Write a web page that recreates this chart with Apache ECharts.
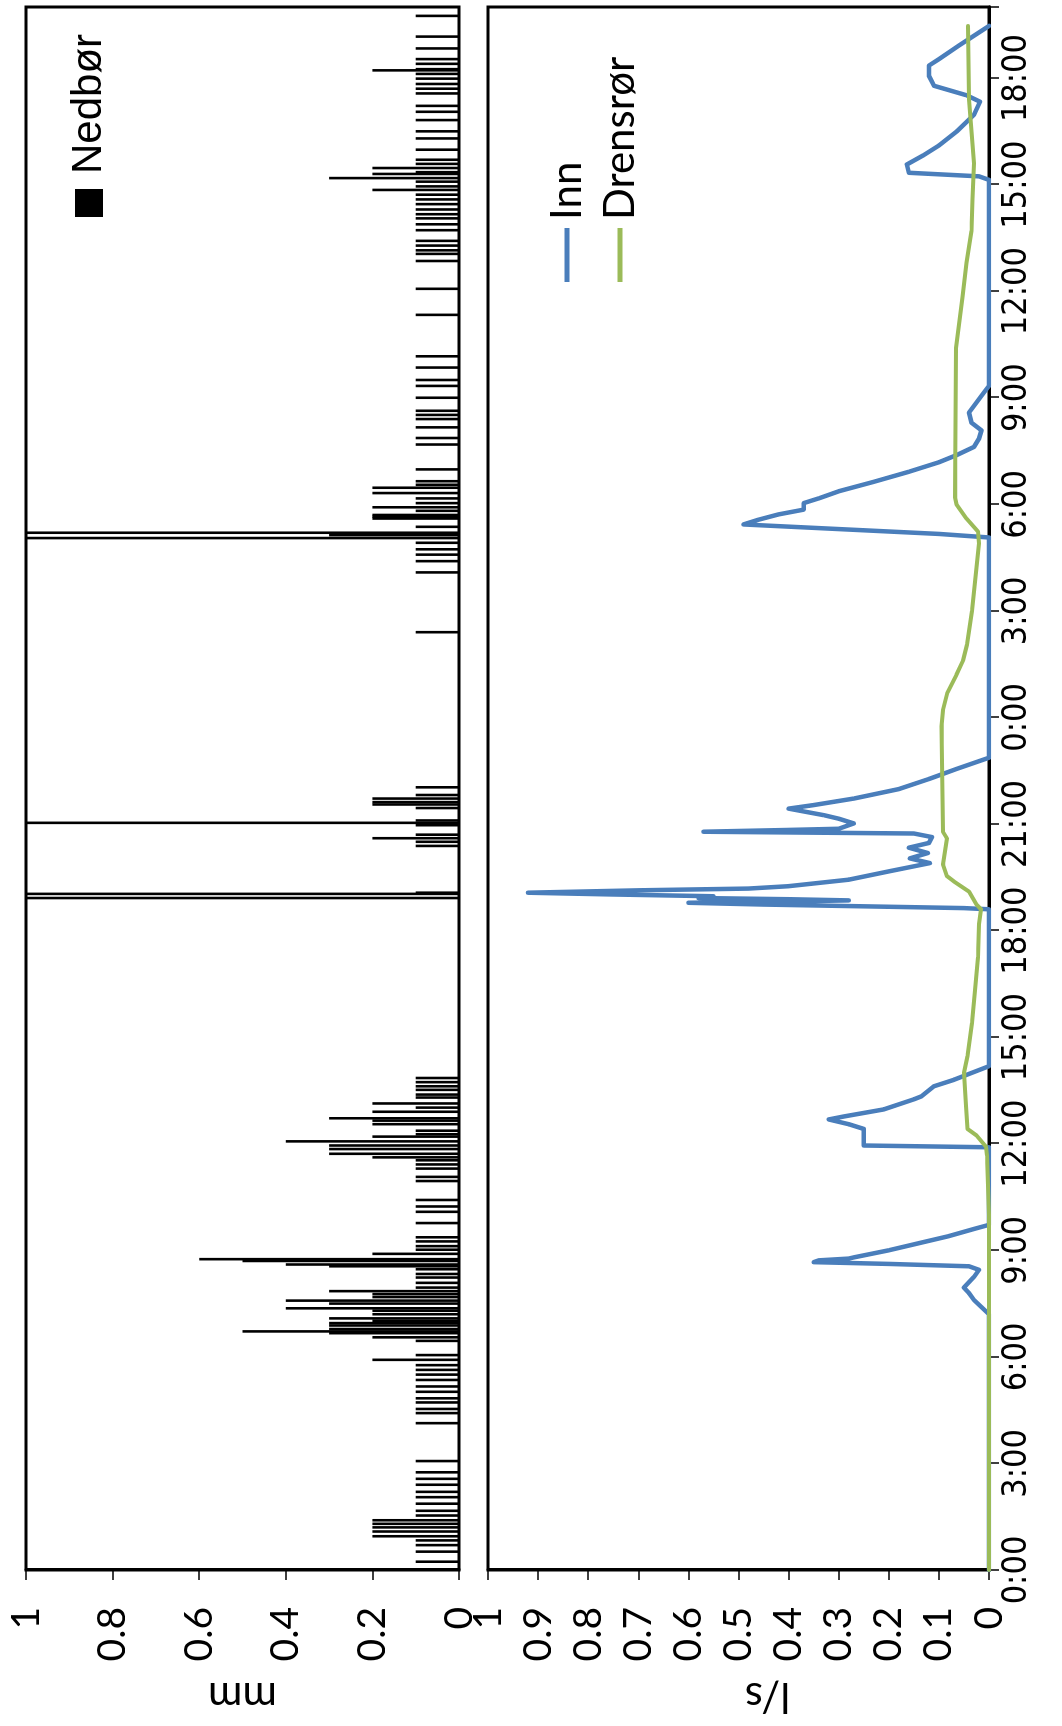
<!DOCTYPE html>
<html>
<head>
<meta charset="utf-8">
<script src="https://cdn.jsdelivr.net/npm/echarts@6/dist/echarts.min.js"></script>
<style>
  html, body { margin: 0; padding: 0; width: 1062px; height: 1726px; overflow: hidden; background: #fff; }
  /* The chart is laid out landscape and turned a quarter turn counter-clockwise onto the portrait page */
  #chart { position: absolute; left: 0; top: 0; width: 1726px; height: 1062px;
           transform-origin: 0 0; transform: translateY(1726px) rotate(-90deg); }
</style>
</head>
<body>
<div id="chart"></div>
<script>
// Time is counted in minutes from 0:00 on the first day; the record covers about 44 hours.
const hourLabels = ['0:00', '3:00', '6:00', '9:00', '12:00', '15:00', '18:00', '21:00',
                    '0:00', '3:00', '6:00', '9:00', '12:00', '15:00', '18:00'];

// Precipitation (mm per logged interval), rain-gauge tips
const rainMinutes = [
  14, 31, 42, 50, 57, 65, 72, 78, 84, 92, 100, 112, 123, 132, 144, 154, 165, 184, 248,
  265, 272, 283, 290, 301, 310, 321, 330, 338, 346, 355, 363, 387, 393, 400, 403, 407, 413, 417,
  421, 425, 432, 438, 442, 450, 455, 461, 466, 471, 477, 485, 494, 500, 508, 513, 516, 522, 525,
  534, 541, 547, 555, 562, 586, 605, 614, 625, 657, 664, 678, 685, 692, 697, 703, 711, 717, 724,
  732, 736, 742, 753, 759, 763, 774, 781, 788, 798, 803, 811, 817, 824, 831,
  1135, 1142, 1144, 1223, 1230, 1236, 1242, 1258, 1262, 1266, 1287, 1293, 1297, 1303, 1309, 1322,
  1584, 1685, 1704, 1715, 1724, 1735, 1743, 1748, 1752, 1762, 1776, 1779, 1782, 1789, 1795, 1802,
  1810, 1819, 1828, 1833, 1839, 1859, 1901, 1912, 1930, 1944, 1951, 1958, 1980, 2000, 2010, 2031,
  2050, 2120, 2164, 2211, 2223, 2229, 2237, 2245, 2263, 2273, 2283, 2290, 2298, 2307, 2315, 2323,
  2331, 2337, 2345, 2351, 2358, 2361, 2368, 2375, 2382, 2399, 2418, 2430, 2449, 2463, 2473, 2494,
  2502, 2510, 2519, 2527, 2533, 2535, 2544, 2552, 2570, 2590, 2625
];
const rainMm = [
  0.1, 0.1, 0.1, 0.1, 0.2, 0.2, 0.2, 0.2, 0.2, 0.1, 0.1, 0.1, 0.1, 0.1, 0.1, 0.1, 0.1, 0.1, 0.1,
  0.1, 0.1, 0.1, 0.1, 0.1, 0.1, 0.1, 0.1, 0.1, 0.1, 0.2, 0.1, 0.1, 0.2, 0.3, 0.5, 0.3, 0.3, 0.3,
  0.2, 0.3, 0.2, 0.2, 0.4, 0.3, 0.4, 0.2, 0.2, 0.3, 0.1, 0.1, 0.1, 0.1, 0.1, 0.3, 0.4, 0.5, 0.6,
  0.2, 0.1, 0.1, 0.1, 0.1, 0.1, 0.1, 0.1, 0.1, 0.1, 0.1, 0.1, 0.1, 0.1, 0.2, 0.3, 0.3, 0.3, 0.4,
  0.2, 0.1, 0.1, 0.2, 0.2, 0.3, 0.2, 0.1, 0.2, 0.1, 0.1, 0.1, 0.1, 0.1, 0.1,
  1.2, 1.2, 0.1, 0.1, 0.1, 0.2, 0.1, 0.1, 1.2, 0.1, 0.1, 0.2, 0.2, 0.2, 0.1, 0.1,
  0.1, 0.1, 0.1, 0.1, 0.1, 0.1, 1.2, 0.3, 1.2, 0.1, 0.2, 0.2, 0.2, 0.1, 0.2, 0.1,
  0.1, 0.2, 0.2, 0.1, 0.1, 0.1, 0.1, 0.1, 0.1, 0.1, 0.1, 0.1, 0.1, 0.1, 0.1, 0.1,
  0.1, 0.1, 0.1, 0.1, 0.1, 0.1, 0.1, 0.1, 0.1, 0.1, 0.1, 0.1, 0.1, 0.1, 0.1, 0.1,
  0.2, 0.1, 0.1, 0.3, 0.2, 0.1, 0.2, 0.1, 0.1, 0.1, 0.1, 0.1, 0.1, 0.1, 0.1, 0.1,
  0.1, 0.1, 0.1, 0.1, 0.2, 0.1, 0.1, 0.1, 0.1, 0.1, 0.1
];

// Inflow "Inn" (l/s)
const innMinutes = [
  0, 432, 444, 456, 468, 477, 486, 495, 507, 513, 517, 520, 523, 526, 528, 540, 552, 564, 576, 583,
  714, 717, 734, 745, 753, 761, 766, 778, 795, 800, 817, 828, 851,
  1116, 1118, 1121, 1124, 1127, 1129, 1131, 1133, 1135, 1138, 1141, 1144, 1148, 1151, 1155, 1166,
  1180, 1194, 1202, 1211, 1220, 1228, 1238, 1244, 1247, 1250, 1252, 1261, 1269, 1275, 1286, 1292,
  1303, 1319, 1336, 1353, 1372,
  1744, 1750, 1766, 1774, 1783, 1791, 1802, 1810, 1822, 1838, 1855, 1871, 1883, 1897, 1911, 1925,
  1938, 1955, 1972, 1989, 2000,
  2348, 2354, 2360, 2374, 2390, 2406, 2430, 2458, 2480, 2491, 2507, 2524, 2541, 2552, 2575, 2597, 2608
];
const innFlow = [
  0, 0, 0.015, 0.03, 0.04, 0.05, 0.04, 0.03, 0.02, 0.04, 0.2, 0.35, 0.34, 0.28, 0.27, 0.2, 0.14, 0.08, 0.03, 0,
  0, 0.25, 0.25, 0.25, 0.28, 0.32, 0.29, 0.21, 0.15, 0.135, 0.11, 0.07, 0,
  0, 0.05, 0.25, 0.45, 0.6, 0.42, 0.28, 0.4, 0.58, 0.55, 0.75, 0.92, 0.7, 0.48, 0.4, 0.28,
  0.2, 0.118, 0.158, 0.122, 0.16, 0.12, 0.114, 0.15, 0.57, 0.4, 0.3, 0.27, 0.3, 0.33, 0.4, 0.35,
  0.27, 0.18, 0.12, 0.065, 0,
  0, 0.1, 0.49, 0.46, 0.42, 0.37, 0.37, 0.34, 0.3, 0.23, 0.16, 0.1, 0.065, 0.03, 0.02, 0.015,
  0.035, 0.04, 0.025, 0.01, 0,
  0, 0.02, 0.16, 0.164, 0.13, 0.1, 0.064, 0.03, 0.018, 0.045, 0.11, 0.12, 0.12, 0.1, 0.06, 0.02, 0
];

// Drain pipe "Drensrør" (l/s)
const drensMinutes = [
  0, 600, 700, 715, 734, 745, 784, 840, 868, 924, 979, 1035, 1091, 1116, 1124, 1146, 1163, 1172,
  1192, 1236, 1247, 1425, 1452, 1482, 1512, 1536, 1563, 1620, 1677, 1734, 1754, 1776, 1800, 1812,
  2064, 2150, 2208, 2262, 2316, 2376, 2484, 2608
];
const drensFlow = [
  0, 0, 0.004, 0.006, 0.025, 0.043, 0.046, 0.05, 0.043, 0.034, 0.028, 0.022, 0.02, 0.016, 0.025, 0.04, 0.07, 0.084,
  0.092, 0.084, 0.092, 0.095, 0.092, 0.083, 0.065, 0.052, 0.044, 0.034, 0.027, 0.02, 0.022, 0.045, 0.065, 0.068,
  0.066, 0.053, 0.045, 0.035, 0.033, 0.03, 0.04, 0.042
];

const toHours = (mins, vals) => mins.map((m, i) => [m / 60, vals[i]]);

const chart = echarts.init(document.getElementById('chart'), null, { renderer: 'canvas' });

const labelFont = "'Lato', 'Liberation Sans', sans-serif";
const timeFont = "'Liberation Sans Narrow', 'DejaVu Sans Condensed', 'Liberation Sans', sans-serif";

chart.setOption({
  animation: false,
  backgroundColor: '#fff',
  legend: [
    {
      data: [{ name: 'Nedbør', icon: 'rect' }],
      left: 1509, top: 68, padding: 0,
      itemWidth: 28, itemHeight: 28,
      textStyle: { fontFamily: "'Liberation Sans', sans-serif", fontSize: 42, color: '#000', padding: [0, 0, 0, 10] }
    },
    {
      data: [{ name: 'Inn', icon: 'rect' }, { name: 'Drensrør', icon: 'rect' }],
      orient: 'vertical', left: 1444, top: 545, padding: 0,
      itemWidth: 54, itemHeight: 5, itemGap: 9,
      textStyle: { fontFamily: labelFont, fontSize: 42, lineHeight: 44, color: '#000', padding: [0, 0, 0, 3] }
    }
  ],
  grid: [
    { left: 141, right: 7, top: 26, height: 433, show: true, borderColor: '#000', borderWidth: 3, backgroundColor: '#fff' },
    { left: 141, right: 7, top: 488, height: 501, show: true, borderColor: '#000', borderWidth: 3, backgroundColor: '#fff' }
  ],
  xAxis: [
    {
      gridIndex: 0, type: 'value', min: 0, max: 44, interval: 3,
      axisLabel: { show: false }, axisTick: { show: false },
      axisLine: { show: false }, splitLine: { show: false }
    },
    {
      gridIndex: 1, type: 'value', min: 0, max: 44, interval: 3,
      axisLabel: {
        formatter: v => hourLabels[Math.round(v / 3)] || '',
        fontFamily: timeFont, fontSize: 34, color: '#000', margin: 11
      },
      axisTick: { show: true, inside: false, length: 10, lineStyle: { color: '#000', width: 1.5 } },
      axisLine: { show: true, lineStyle: { color: '#000', width: 3 } },
      splitLine: { show: false }
    }
  ],
  yAxis: [
    {
      gridIndex: 0, type: 'value', min: 0, max: 1, interval: 0.2,
      name: 'mm', nameLocation: 'middle', nameGap: 106,
      nameTextStyle: { fontFamily: labelFont, fontSize: 42, color: '#000' },
      axisLabel: { fontFamily: labelFont, fontSize: 39, color: '#000', margin: 37 },
      axisTick: { show: true, length: 10, lineStyle: { color: '#000', width: 1.5 } },
      axisLine: { show: true, lineStyle: { color: '#000', width: 3 } },
      splitLine: { show: false }
    },
    {
      gridIndex: 1, type: 'value', min: 0, max: 1, interval: 0.1,
      name: 'l/s', nameLocation: 'middle', nameGap: 106,
      nameTextStyle: { fontFamily: labelFont, fontSize: 42, color: '#000', padding: [0, 58, 0, 0] },
      axisLabel: { fontFamily: labelFont, fontSize: 39, color: '#000', margin: 37 },
      axisTick: { show: true, length: 10, lineStyle: { color: '#000', width: 1.5 } },
      axisLine: { show: true, lineStyle: { color: '#000', width: 3 } },
      splitLine: { show: false }
    }
  ],
  series: [
    {
      name: 'Nedbør', type: 'bar', xAxisIndex: 0, yAxisIndex: 0,
      barWidth: 2.6, clip: true,
      itemStyle: { color: '#000' },
      data: toHours(rainMinutes, rainMm)
    },
    {
      name: 'Inn', type: 'line', xAxisIndex: 1, yAxisIndex: 1,
      symbol: 'none', showSymbol: false, clip: true,
      itemStyle: { color: '#4A7EBB' },
      lineStyle: { color: '#4A7EBB', width: 4.5, join: 'round', cap: 'round' },
      data: toHours(innMinutes, innFlow)
    },
    {
      name: 'Drensrør', type: 'line', xAxisIndex: 1, yAxisIndex: 1,
      symbol: 'none', showSymbol: false, clip: true,
      itemStyle: { color: '#9BBB59' },
      lineStyle: { color: '#9BBB59', width: 4, join: 'round', cap: 'round' },
      data: toHours(drensMinutes, drensFlow)
    }
  ]
});
</script>
</body>
</html>
